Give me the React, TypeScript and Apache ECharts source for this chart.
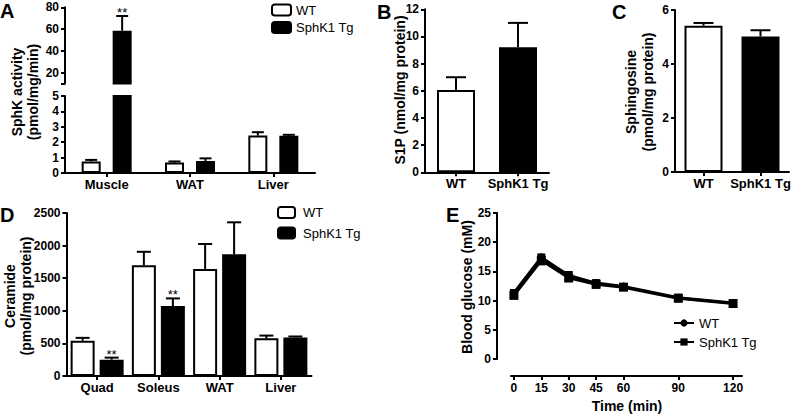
import React, { useEffect, useRef } from 'react';
import * as echarts from 'echarts';

const FONT = '"Liberation Sans", Arial, Helvetica, sans-serif';

// ---- Panel A: SphK activity (pmol/mg/min)
const aCategories = ['Muscle', 'WAT', 'Liver'];
const aWT = [0.75, 0.68, 2.43];
const aWTErrTop = [0.85, 0.75, 2.65];
const aTg = [58.5, 0.78, 2.42];
const aTgErrTop = [72, 0.95, 2.48];
const aTgStars = [2, 0, 0];
const aUpperTicks = [10, 20, 40, 60, 80];
const aUpperLabels = [20, 40, 60, 80];
const aBreak = 5;

// ---- Panel B: S1P (nmol/mg protein)
const bCategories = ['WT', 'SphK1 Tg'];
const bValues = [6.05, 9.2];
const bErrTop = [7.0, 11.0];

// ---- Panel C: Sphingosine (pmol/mg protein)
const cCategories = ['WT', 'SphK1 Tg'];
const cValues = [5.42, 5.02];
const cErrTop = [5.52, 5.25];

// ---- Panel D: Ceramide (pmol/mg protein)
const dCategories = ['Quad', 'Soleus', 'WAT', 'Liver'];
const dWT = [540, 1700, 1640, 578];
const dWTErrTop = [585, 1905, 2025, 620];
const dTg = [250, 1073, 1866, 592];
const dTgErrTop = [282, 1190, 2357, 606];
const dTgStars = [2, 2, 0, 0];

// ---- Panel E: Blood glucose (mM) over time (min)
const eTimes = [0, 15, 30, 45, 60, 90, 120];
const eWT = [11.3, 17.4, 14.3, 13.0, 12.4, 10.5, 9.6];
const eWTSem = [0.5, 0.5, 0.6, 0.5, 0.4, 0.5, 0.3];
const eTg = [10.9, 16.9, 13.9, 12.8, 12.3, 10.4, 9.5];
const eTgSem = [0.5, 0.7, 0.6, 0.6, 0.4, 0.5, 0.3];

const axisLine = { show: true, onZero: false, lineStyle: { color: '#000', width: 2 } };
const axisTick = { show: true, length: 4, lineStyle: { color: '#000', width: 2 } };
const valLabel = {
  color: '#000', fontFamily: FONT, fontWeight: 'bold' as const, fontSize: 12, margin: 6,
  formatter: (v: number) => String(v),
};
const catLabel = { color: '#000', fontFamily: FONT, fontWeight: 'bold' as const, fontSize: 13, margin: 5, interval: 0 };
const wtStyle = { color: '#fff', borderColor: '#000', borderWidth: 2 };
const tgStyle = { color: '#000', borderColor: '#000', borderWidth: 2 };

function catX(gridIndex: number, data: string[], hidden = false) {
  return {
    type: 'category', gridIndex, data,
    axisLine: hidden ? { show: false } : axisLine,
    axisTick: hidden ? { show: false } : { ...axisTick, alignWithLabel: true, interval: 0 },
    axisLabel: hidden ? { show: false } : catLabel,
    splitLine: { show: false },
  };
}

function valY(gridIndex: number, min: number, max: number, interval: number, extra: any = {}) {
  return {
    type: 'value', gridIndex, min, max, interval,
    axisLine, axisTick, axisLabel: valLabel, splitLine: { show: false },
    ...extra,
  };
}

function barErr(xi: number, items: number[][], bw: number, gap: number, two: boolean, capW: number) {
  return {
    type: 'custom', xAxisIndex: xi, yAxisIndex: xi, z: 5, silent: true,
    data: items, encode: { x: 0, y: 1 },
    renderItem: (params: any, api: any) => {
      const cat = api.value(0), v = api.value(1), top = api.value(2), side = api.value(3), stars = api.value(4);
      const off = two ? (side === 0 ? -1 : 1) * (bw + gap) / 2 : 0;
      const p0 = api.coord([cat, v]);
      const p1 = api.coord([cat, top]);
      const x = p0[0] + off;
      const style = { stroke: '#000', lineWidth: 2 };
      const children: any[] = [
        { type: 'line', shape: { x1: x, y1: p0[1], x2: x, y2: p1[1] }, style },
        { type: 'line', shape: { x1: x - capW / 2, y1: p1[1], x2: x + capW / 2, y2: p1[1] }, style },
      ];
      if (stars > 0) {
        children.push({
          type: 'text', x, y: p1[1] + 3,
          style: { text: '*'.repeat(stars), fill: '#000', font: `13px ${FONT}`, align: 'center', verticalAlign: 'bottom' },
        });
      }
      return { type: 'group', children };
    },
  };
}

function lineErr(items: number[][]) {
  return {
    type: 'custom', xAxisIndex: 5, yAxisIndex: 5, z: 5, silent: true,
    data: items, encode: { x: 0, y: 1 },
    renderItem: (params: any, api: any) => {
      const t = api.value(0), v = api.value(1), s = api.value(2);
      const lo = api.coord([t, v - s]);
      const hi = api.coord([t, v + s]);
      const style = { stroke: '#000', lineWidth: 2 };
      return {
        type: 'group', children: [
          { type: 'line', shape: { x1: lo[0], y1: lo[1], x2: hi[0], y2: hi[1] }, style },
          { type: 'line', shape: { x1: lo[0] - 4, y1: lo[1], x2: lo[0] + 4, y2: lo[1] }, style },
          { type: 'line', shape: { x1: hi[0] - 4, y1: hi[1], x2: hi[0] + 4, y2: hi[1] }, style },
        ],
      };
    },
  };
}

function txt(text: string, x: number, y: number, size: number, opts: any = {}) {
  return {
    type: 'text', x, y, rotation: opts.rotation || 0, silent: true,
    style: {
      text, fill: '#000', font: `bold ${size}px ${FONT}`,
      align: opts.align || 'center', verticalAlign: 'middle', lineHeight: opts.lineHeight || size + 2,
    },
  };
}

function buildOption() {
  const A_BW = 19, A_GAP = 12;
  const D_BW = 24, D_GAP = 5;

  const aLowerErr: number[][] = [];
  const aUpperErr: number[][] = [];
  aCategories.forEach((_, i) => {
    const w = [i, aWT[i], aWTErrTop[i], 0, 0];
    const t = [i, aTg[i], aTgErrTop[i], 1, aTgStars[i]];
    (aWT[i] > aBreak ? aUpperErr : aLowerErr).push(w);
    (aTg[i] > aBreak ? aUpperErr : aLowerErr).push(t);
  });

  const dErr: number[][] = [];
  dCategories.forEach((_, i) => {
    dErr.push([i, dWT[i], dWTErrTop[i], 0, 0]);
    dErr.push([i, dTg[i], dTgErrTop[i], 1, dTgStars[i]]);
  });

  const legendText = { fontFamily: FONT, fontSize: 13, color: '#000' };
  const aGap = `${(A_GAP / A_BW) * 100}%`;
  const dGap = `${(D_GAP / D_BW) * 100}%`;

  return {
    animation: false,
    backgroundColor: '#fff',
    grid: [
      { left: 65, top: 7.3, width: 250, height: 76.3, outerBoundsMode: 'none' },
      { left: 65, top: 96, width: 250, height: 77, outerBoundsMode: 'none' },
      { left: 425, top: 9.3, width: 124, height: 163, outerBoundsMode: 'none' },
      { left: 675, top: 10, width: 114, height: 162, outerBoundsMode: 'none' },
      { left: 66.5, top: 213, width: 245, height: 163, outerBoundsMode: 'none' },
      { left: 511, top: 213, width: 231, height: 146, outerBoundsMode: 'none' },
    ],
    xAxis: [
      catX(0, aCategories, true),
      catX(1, aCategories),
      catX(2, bCategories),
      catX(3, cCategories),
      catX(4, dCategories),
      {
        type: 'value', gridIndex: 5, min: -1.6, max: 124.9, offset: 17,
        axisLine, axisTick: { ...axisTick, customValues: eTimes },
        axisLabel: { ...valLabel, customValues: eTimes, margin: 6 },
        splitLine: { show: false },
      },
    ],
    yAxis: [
      valY(0, 10, 80, 10, {
        axisTick: { ...axisTick, customValues: aUpperTicks },
        axisLabel: { ...valLabel, customValues: aUpperLabels },
      }),
      valY(1, 0, 5, 1),
      valY(2, 0, 12, 2),
      valY(3, 0, 6, 2),
      valY(4, 0, 2500, 500),
      valY(5, 0, 25, 5, { offset: 14 }),
    ],
    legend: [
      {
        data: ['WT', 'SphK1 Tg'], orient: 'vertical', left: 271, top: 3.5, padding: 0,
        itemWidth: 19, itemHeight: 11, itemGap: 4.5, selectedMode: false, textStyle: legendText,
      },
      {
        data: ['WT', 'SphK1 Tg'], orient: 'vertical', left: 277, top: 206, padding: 0,
        itemWidth: 17, itemHeight: 11, itemGap: 7.5, selectedMode: false,
        textStyle: { ...legendText, padding: [0, 0, 0, 3] },
      },
      {
        data: ['E: WT', 'E: SphK1 Tg'], orient: 'vertical', left: 673, top: 316.5, padding: 0,
        itemWidth: 20, itemHeight: 9, itemGap: 6, selectedMode: false, textStyle: legendText,
        formatter: (n: string) => n.replace('E: ', ''),
      },
    ],
    series: [
      // A lower
      { type: 'bar', name: 'WT', xAxisIndex: 1, yAxisIndex: 1, data: aWT, barWidth: A_BW, barGap: aGap, clip: true, itemStyle: wtStyle },
      { type: 'bar', name: 'SphK1 Tg', xAxisIndex: 1, yAxisIndex: 1, data: aTg, barWidth: A_BW, barGap: aGap, clip: true, itemStyle: tgStyle },
      // A upper (above the axis break)
      { type: 'bar', name: 'WT', xAxisIndex: 0, yAxisIndex: 0, data: aWT.map(v => (v > aBreak ? v : '-')), barWidth: A_BW, barGap: aGap, clip: true, itemStyle: wtStyle },
      { type: 'bar', name: 'SphK1 Tg', xAxisIndex: 0, yAxisIndex: 0, data: aTg.map(v => (v > aBreak ? v : '-')), barWidth: A_BW, barGap: aGap, clip: true, itemStyle: tgStyle },
      barErr(1, aLowerErr, A_BW, A_GAP, true, 12),
      barErr(0, aUpperErr, A_BW, A_GAP, true, 12),
      // B
      { type: 'bar', name: 'S1P', xAxisIndex: 2, yAxisIndex: 2, barWidth: 38, data: bValues.map((v, i) => ({ value: v, itemStyle: i === 0 ? wtStyle : tgStyle })) },
      barErr(2, bValues.map((v, i) => [i, v, bErrTop[i], 0, 0]), 38, 0, false, 20),
      // C
      { type: 'bar', name: 'Sphingosine', xAxisIndex: 3, yAxisIndex: 3, barWidth: 38, data: cValues.map((v, i) => ({ value: v, itemStyle: i === 0 ? wtStyle : tgStyle })) },
      barErr(3, cValues.map((v, i) => [i, v, cErrTop[i], 0, 0]), 38, 0, false, 20),
      // D
      { type: 'bar', name: 'WT', xAxisIndex: 4, yAxisIndex: 4, data: dWT, barWidth: D_BW, barGap: dGap, itemStyle: wtStyle },
      { type: 'bar', name: 'SphK1 Tg', xAxisIndex: 4, yAxisIndex: 4, data: dTg, barWidth: D_BW, barGap: dGap, itemStyle: tgStyle },
      barErr(4, dErr, D_BW, D_GAP, true, 14),
      // E
      lineErr(eTimes.map((t, i) => [t, eWT[i], eWTSem[i]])),
      lineErr(eTimes.map((t, i) => [t, eTg[i], eTgSem[i]])),
      {
        type: 'line', name: 'E: WT', xAxisIndex: 5, yAxisIndex: 5, z: 6,
        data: eTimes.map((t, i) => [t, eWT[i]]), symbol: 'circle', symbolSize: 8,
        lineStyle: { color: '#000', width: 3 }, itemStyle: { color: '#000' },
      },
      {
        type: 'line', name: 'E: SphK1 Tg', xAxisIndex: 5, yAxisIndex: 5, z: 6,
        data: eTimes.map((t, i) => [t, eTg[i]]), symbol: 'rect', symbolSize: 9,
        lineStyle: { color: '#000', width: 3 }, itemStyle: { color: '#000' },
      },
    ],
    graphic: [
      txt('A', 0, 11, 20, { align: 'left' }),
      txt('B', 377, 12, 20, { align: 'left' }),
      txt('C', 612, 12, 20, { align: 'left' }),
      txt('D', 0, 215, 20, { align: 'left' }),
      txt('E', 446, 215, 20, { align: 'left' }),
      txt('SphK activity\n(pmol/mg/min)', 25, 92, 14, { rotation: Math.PI / 2, lineHeight: 16 }),
      txt('S1P (nmol/mg protein)', 400, 90, 14, { rotation: Math.PI / 2 }),
      txt('Sphingosine\n(pmol/mg protein)', 639, 92, 14, { rotation: Math.PI / 2, lineHeight: 17 }),
      txt('Ceramide\n(pmol/mg protein)', 18, 296, 14, { rotation: Math.PI / 2, lineHeight: 16 }),
      txt('Blood glucose (mM)', 467, 287, 14, { rotation: Math.PI / 2 }),
      txt('Time (min)', 627, 406, 14),
    ],
  };
}

export default function App() {
  const ref = useRef<HTMLDivElement>(null);
  useEffect(() => {
    const chart = echarts.init(ref.current!, null, { renderer: 'svg' });
    chart.setOption(buildOption() as any);
    return () => chart.dispose();
  }, []);
  return (
    <div
      ref={ref}
      style={{ position: 'absolute', left: 0, top: 0, width: 791, height: 416, background: '#fff' }}
    />
  );
}
